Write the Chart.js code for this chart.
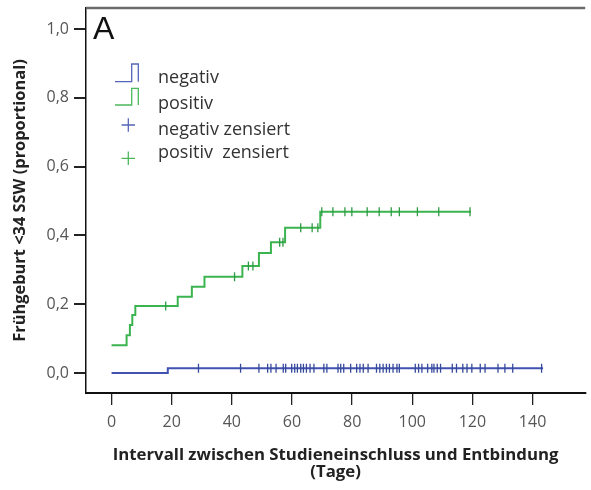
<!DOCTYPE html>
<html>
<head>
<meta charset="utf-8">
<script src="https://cdn.jsdelivr.net/npm/chart.js@4"></script>
<style>
  html, body { margin: 0; padding: 0; background: #fff; }
  #wrap { width: 591px; height: 490px; }
</style>
</head>
<body>
<div id="wrap"><canvas id="km" width="591" height="490"></canvas></div>
<script>
// Cumulative incidence of preterm birth (<34 SSW), Kaplan-Meier style steps
// "positiv" group: event days and the cumulative proportion after each event
const positivStepDays   = [0, 5.0, 6.1, 6.9, 7.9, 22.0, 26.7, 30.9, 43.5, 49.0, 53.0, 57.7, 69.4];
const positivStepValues = [0.081, 0.110, 0.140, 0.169, 0.195, 0.222, 0.251, 0.280, 0.311, 0.349, 0.380, 0.422, 0.469];
const positivEndDay     = 119.5;
const positivCensorDays = [18.0, 40.9, 45.5, 47.0, 55.9, 57.0, 62.9, 66.7, 68.6, 69.9, 73.6, 77.6, 79.9,
                           85.0, 89.0, 93.0, 95.7, 101.7, 108.8, 119.2];

// "negativ" group
const negativStepDays   = [0, 18.7];
const negativStepValues = [0.0, 0.014];
const negativEndDay     = 143.5;
const negativCensorDays = [28.9, 42.9, 49.0, 51.9, 53.0, 54.7, 57.1, 57.9, 59.9, 60.9, 61.8, 62.9, 63.8,
                           64.8, 66.0, 67.3, 70.6, 71.6, 75.3, 76.2, 77.2, 79.5, 81.5, 82.6, 83.7, 85.3,
                           88.1, 89.2, 90.3, 91.4, 92.4, 93.6, 94.9, 95.7, 101.0, 102.1, 103.2, 105.1,
                           106.5, 107.2, 108.3, 109.4, 113.3, 114.7, 116.8, 118.2, 119.8, 122.6, 124.2,
                           128.5, 130.8, 133.4, 143.0];

// Axis ticks
const xTickValues = [0, 20, 40, 60, 80, 100, 120, 140];
const yTickValues = [0, 0.2, 0.4, 0.6, 0.8, 1.0];
const yTickLabels = ['0,0', '0,2', '0,4', '0,6', '0,8', '1,0'];

// Legend entries
const legendLabels = ['negativ', 'positiv', 'negativ zensiert', 'positiv  zensiert'];

const GREEN = '#3bb44f', GREEN_MARK = '#2f9a45';
const BLUE = '#4152b0', BLUE_MARK = '#364a9c';
const SANS = '"Open Sans", Lato, sans-serif';

function stepPoints(days, values, endDay) {
  const pts = days.map((d, i) => ({ x: d, y: values[i] }));
  pts.push({ x: endDay, y: values[values.length - 1] });
  return pts;
}
function valueAt(days, values, t) {
  let v = values[0];
  for (let i = 0; i < days.length; i++) if (days[i] <= t) v = values[i];
  return v;
}
function censorPoints(cDays, days, values) {
  return cDays.map(d => ({ x: d, y: valueAt(days, values, d) }));
}

// Frame top line, panel letter and the legend inside the plot box
const decorations = {
  id: 'decorations',
  afterDraw(chart) {
    const ctx = chart.ctx, a = chart.chartArea;
    ctx.save();
    ctx.strokeStyle = '#6b6b6b';
    ctx.lineWidth = 2.5;
    ctx.beginPath();
    ctx.moveTo(a.left, a.top);
    ctx.lineTo(a.right, a.top);
    ctx.stroke();

    ctx.fillStyle = '#111';
    ctx.font = '32px "Liberation Sans", Arial, sans-serif';
    ctx.textBaseline = 'alphabetic';
    ctx.fillText('A', 93, 39);

    // step icons
    ctx.lineWidth = 1.3;
    const icon = (yLow, yHigh, color) => {
      ctx.strokeStyle = color;
      ctx.beginPath();
      ctx.moveTo(115, yLow);
      ctx.lineTo(131.7, yLow);
      ctx.lineTo(131.7, yHigh);
      ctx.lineTo(138.3, yHigh);
      ctx.lineTo(138.3, yLow);
      ctx.stroke();
    };
    icon(81.7, 64, '#5566b8');
    icon(105, 88.3, '#4bb85c');
    const plus = (cx, cy, color) => {
      ctx.strokeStyle = color;
      ctx.beginPath();
      ctx.moveTo(cx - 6.7, cy); ctx.lineTo(cx + 6.7, cy);
      ctx.moveTo(cx, cy - 6.7); ctx.lineTo(cx, cy + 6.7);
      ctx.stroke();
    };
    plus(128.3, 125, '#5566b8');
    plus(128.3, 158.3, '#4bb85c');

    ctx.fillStyle = '#333';
    ctx.font = '18px ' + SANS;
    const baselines = [83, 109, 135, 158];
    legendLabels.forEach((t, i) => ctx.fillText(t, 158, baselines[i]));
    ctx.restore();
  }
};

new Chart(document.getElementById('km'), {
  type: 'line',
  data: {
    datasets: [
      { label: 'negativ', data: stepPoints(negativStepDays, negativStepValues, negativEndDay),
        stepped: 'before', borderColor: BLUE, borderWidth: 2, pointRadius: 0, fill: false, order: 2 },
      { label: 'positiv', data: stepPoints(positivStepDays, positivStepValues, positivEndDay),
        stepped: 'before', borderColor: GREEN, borderWidth: 2, pointRadius: 0, fill: false, order: 2 },
      { label: 'negativ zensiert', data: censorPoints(negativCensorDays, negativStepDays, negativStepValues),
        showLine: false, pointStyle: 'line', rotation: 90, pointRadius: 4.5, pointBorderWidth: 1.3,
        borderColor: BLUE_MARK, pointBorderColor: BLUE_MARK, order: 1 },
      { label: 'positiv  zensiert', data: censorPoints(positivCensorDays, positivStepDays, positivStepValues),
        showLine: false, pointStyle: 'line', rotation: 90, pointRadius: 4.5, pointBorderWidth: 1.3,
        borderColor: GREEN_MARK, pointBorderColor: GREEN_MARK, order: 1 }
    ]
  },
  options: {
    responsive: false,
    animation: false,
    devicePixelRatio: 1,
    layout: { padding: { top: 8, right: 0, bottom: 0, left: 0 } },
    plugins: { legend: { display: false }, tooltip: { enabled: false } },
    scales: {
      x: {
        type: 'linear',
        min: -8.5,
        max: 157.5,
        afterBuildTicks(scale) { scale.ticks = xTickValues.map(v => ({ value: v })); },
        afterFit(scale) { scale.height = 97; scale.paddingLeft = 0; scale.paddingRight = 0; },
        grid: { drawOnChartArea: false, drawTicks: true, tickLength: 12, color: '#222', lineWidth: 1.3 },
        border: { display: true, color: '#111', width: 2 },
        ticks: {
          padding: 8,
          color: '#555',
          font: { family: SANS, size: 16 },
          maxRotation: 0,
          callback: v => String(v)
        },
        title: {
          display: true,
          text: ['Intervall zwischen Studieneinschluss und Entbindung', '(Tage)'],
          color: '#222',
          font: { family: SANS, size: 16.8, weight: 'bold', lineHeight: '16.5px' },
          padding: { top: 0, bottom: 10 }
        }
      },
      y: {
        type: 'linear',
        min: -0.058,
        max: 1.061,
        afterBuildTicks(scale) { scale.ticks = yTickValues.map(v => ({ value: v })); },
        afterFit(scale) { scale.width = 86; scale.paddingTop = 0; scale.paddingBottom = 0; },
        grid: { drawOnChartArea: false, drawTicks: true, tickLength: 12, color: '#222', lineWidth: 2 },
        border: { display: true, color: '#111', width: 1.5 },
        ticks: {
          padding: 5,
          color: '#555',
          font: { family: SANS, size: 16 },
          callback: v => yTickLabels[yTickValues.findIndex(t => Math.abs(t - v) < 1e-9)]
        },
        title: {
          display: true,
          text: 'Frühgeburt <34 SSW (proportional)',
          color: '#222',
          font: { family: SANS, size: 16.4, weight: 'bold', lineHeight: '16px' },
          padding: { top: 12, bottom: 0 }
        }
      }
    }
  },
  plugins: [decorations]
});
</script>
</body>
</html>
